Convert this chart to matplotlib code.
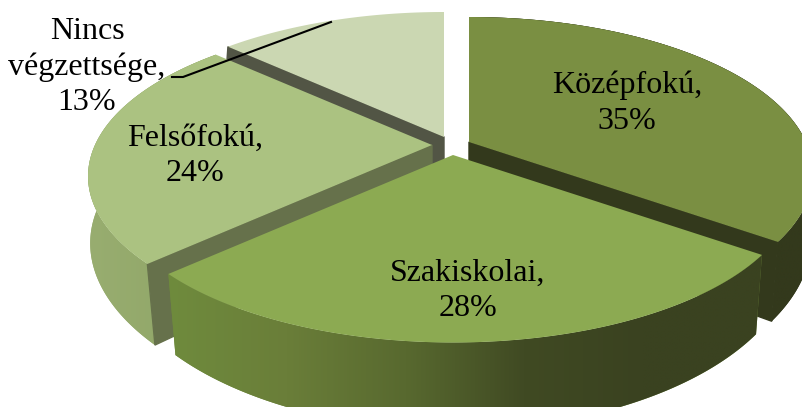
# Exploded 3D pie of educational attainment, drawn in pixel coordinates
import numpy as np
import matplotlib
matplotlib.use('Agg')
import matplotlib.pyplot as plt
from matplotlib.patches import Polygon, PathPatch
from matplotlib.path import Path
from matplotlib.colors import LinearSegmentedColormap

categories = ['Középfokú', 'Szakiskolai', 'Felsőfokú', 'Nincs\nvégzettsége']
values = [35, 28, 24, 13]

# slice tip on the top face of the pie, one per category
tips = [(469, 142), (453, 155), (432, 145), (444, 137)]
top_colors = ['#7A8F42', '#8CAA52', '#ABC281', '#CBD7B2']
cut_colors = ['#33391C', None, '#66714B', '#525545']
wall_stops = [
    ['#33391C', '#33391C'],
    ['#6F8B3D', '#6A7E39', '#58692F', '#404A23', '#3A4220', '#3A4220'],
    ['#98AD70', '#8FA566'],
    ['#CBD7B2', '#CBD7B2'],
]
label_pos = [(627, 103), (468, 291), (195, 156), (87, 67)]

RX = 337
RY = 150
PERSP = 0.2
DEPTH = 70
VANISH_X = 466


def rim(tip, theta):
    # theta is clockwise from 12 o'clock, front of the pie is nearer so bigger
    u = np.sin(theta)
    v = -np.cos(theta)
    s = 1 / (1 - PERSP * v)
    return tip[0] + RX * u * s, tip[1] + RY * v * s, s


def lower(x, y, s):
    shrink = 1 - 0.15 * (s - 1)
    return VANISH_X + (x - VANISH_X) * shrink, y + DEPTH * s


fig = plt.figure(figsize=(8.02, 4.07), dpi=100)
ax = fig.add_axes([0, 0, 1, 1])

angles = np.radians(np.cumsum([0] + values) * 3.6)
# back slices first so the nearer ones cover them
for order, i in enumerate([3, 2, 0, 1]):
    tip = tips[i]
    z = 1 + order
    t = np.linspace(angles[i], angles[i + 1], 200)
    x, y, s = rim(tip, t)
    xb, yb = lower(x, y, s)

    # outer wall with a left to right gradient, solid copy under it hides the seam
    if i != 3:
        verts = np.vstack([np.column_stack([x, y]), np.column_stack([xb, yb])[::-1]])
        ax.add_patch(Polygon(verts, closed=True, fc=wall_stops[i][0], ec='none', zorder=z - 0.2))
        path = Path(np.vstack([verts, verts[0]]), closed=True)
        cmap = LinearSegmentedColormap.from_list('wall%d' % i, wall_stops[i])
        grad = np.linspace(0, 1, 256).reshape(1, -1)
        patch = PathPatch(path, fc='none', ec='none', transform=ax.transData)
        ax.add_patch(patch)
        im = ax.imshow(grad, cmap=cmap, aspect='auto', interpolation='bilinear',
                       extent=(verts[:, 0].min(), verts[:, 0].max(), verts[:, 1].max(), verts[:, 1].min()),
                       zorder=z - 0.1)
        im.set_clip_path(patch)

    # cut face that can be seen (the one at the start or end of the slice)
    if cut_colors[i] is not None:
        k = -1 if i == 0 else 0
        bx, by = lower(x[k], y[k], s[k])
        tx, ty = lower(tip[0], tip[1], 1)
        ax.add_patch(Polygon([tip, (x[k], y[k]), (bx, by), (tx, ty)], closed=True,
                             fc=cut_colors[i], ec=cut_colors[i], lw=1, zorder=z))

    top = np.vstack([[tip], np.column_stack([x, y])])
    ax.add_patch(Polygon(top, closed=True, fc=top_colors[i], ec='none', zorder=z + 0.5))

for name, val, pos in zip(categories, values, label_pos):
    ax.text(pos[0], pos[1], '%s,\n%d%%' % (name, val), ha='center', va='center',
            family='Liberation Serif', fontsize=23, color='black', linespacing=1.3, zorder=10)

ax.plot([172, 183, 331], [77, 77, 22], color='black', lw=1.5, zorder=9)

ax.set_xlim(0, 802)
ax.set_ylim(407, 0)
ax.axis('off')
fig.savefig('out.png', dpi=100)
